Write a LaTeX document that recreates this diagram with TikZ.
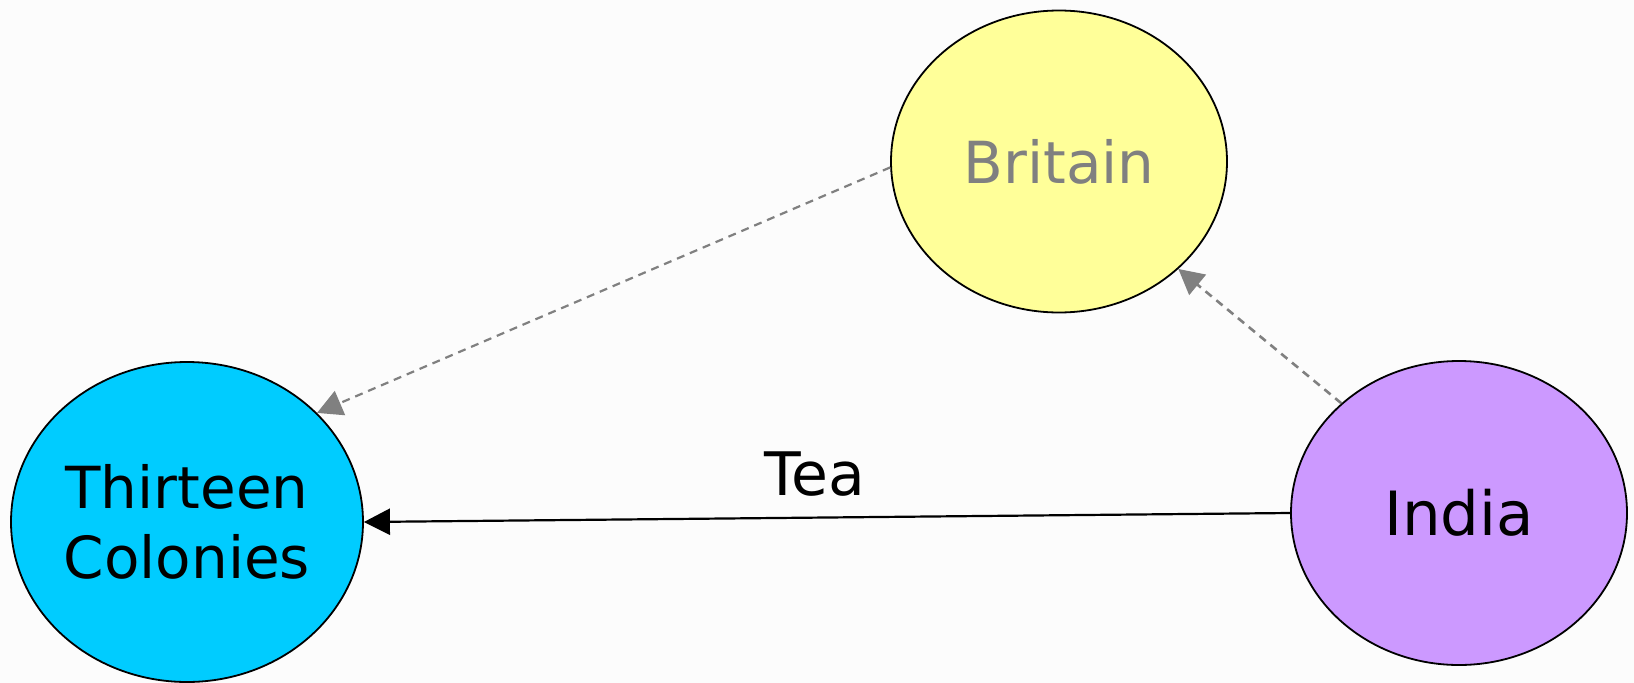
\documentclass[tikz,border=0pt]{standalone}
\usepackage{fontspec}
\setmainfont{DejaVu Sans}
\usetikzlibrary{shapes.geometric,arrows.meta}
\definecolor{bgc}{HTML}{FCFCFC}
\definecolor{ycol}{HTML}{FFFF99}
\definecolor{ccol}{HTML}{00CCFF}
\definecolor{pcol}{HTML}{CC99FF}
\definecolor{gcol}{HTML}{808080}
\tikzset{
  blob/.style={ellipse, draw=black, line width=1.8pt, inner sep=0pt},
  lbl/.style={inner sep=0pt, align=center, font=\fontsize{58}{70}\selectfont},
  grayarrow/.style={draw=gcol, dash pattern=on 8pt off 6pt,
    -{Triangle[length=25pt,width=26pt]}, gcol},
  blackarrow/.style={draw=black, line width=2.2pt, -{Triangle[length=26pt,width=26pt]}},
}
\begin{document}
\begin{tikzpicture}[x=1pt,y=-1pt]
\fill[bgc] (0,0) rectangle (1634,683);
\useasboundingbox (0,0) rectangle (1634,683);
\node[blob, fill=ycol, minimum width=336pt, minimum height=302pt] (brit) at (1059,161.5) {};
\node[blob, fill=ccol, minimum width=352pt, minimum height=320pt] (col) at (187,522) {};
\node[blob, fill=pcol, minimum width=336pt, minimum height=304pt] (ind) at (1459,513) {};
\node[lbl, text=gcol] (britt) at (brit) {Britain};
\node[lbl] (colt) at (col) {Thirteen\\Colonies};
\node[lbl, font=\fontsize{61}{70}\selectfont] (indt) at (ind) {India};
\draw[grayarrow, line width=2.2pt] (brit.182) -- (col.40);
\draw[grayarrow, line width=2.6pt] (ind.137) -- (brit.-42);
\draw[blackarrow] (ind.west) -- (col.east);
\node[font=\fontsize{60}{68}\selectfont] (tea) at (815,474) {Tea};
\end{tikzpicture}
\end{document}
